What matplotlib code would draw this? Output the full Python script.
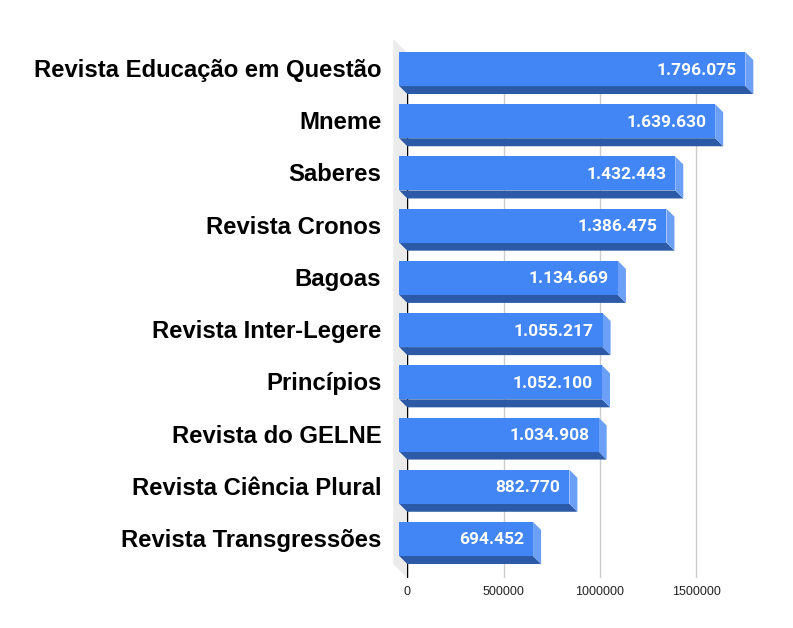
import matplotlib
matplotlib.use('Agg')
import matplotlib.pyplot as plt
from matplotlib.patches import Polygon
from matplotlib.transforms import offset_copy

# data
journals = ['Revista Educação em Questão', 'Mneme', 'Saberes', 'Revista Cronos',
            'Bagoas', 'Revista Inter-Legere', 'Princípios', 'Revista do GELNE',
            'Revista Ciência Plural', 'Revista Transgressões']
views = [1796075, 1639630, 1432443, 1386475, 1134669,
         1055217, 1052100, 1034908, 882770, 694452]
value_labels = ['1.796.075', '1.639.630', '1.432.443', '1.386.475', '1.134.669',
                '1.055.217', '1.052.100', '1.034.908', '882.770', '694.452']
xticks = [0, 500000, 1000000, 1500000]

# look
W, H, DPI = 793, 628, 100
front_col = '#4285f4'
bottom_col = '#2d5aa6'
side_col = '#6c9ff6'
wall_col = '#ebebeb'
depth = 8        # px, bar depth
wall_depth = 14  # px
xmax = 1900000

fig = plt.figure(figsize=(W / DPI, H / DPI), dpi=DPI)
px_per_unit = 96.33 / 500000
ax_left, ax_top, ax_bottom = 407.3, 53, 578
ax = fig.add_axes([ax_left / W, (H - ax_bottom) / H,
                   xmax * px_per_unit / W, (ax_bottom - ax_top) / H])
ax.set_xlim(0, xmax)
ax.set_ylim(9.594, -0.46)
for s in ax.spines.values():
    s.set_visible(False)

# pixel depth -> data units
inv = ax.transData.inverted()
p0 = inv.transform((0, 0))
p1 = inv.transform((depth, depth))
pw = inv.transform((wall_depth, wall_depth))
dx, dy = p1[0] - p0[0], p0[1] - p1[1]     # dy > 0 means "up" (smaller y)
wdx, wdy = pw[0] - p0[0], p0[1] - pw[1]

# side wall
y0, y1 = ax.get_ylim()
ax.add_patch(Polygon([(0, y1), (-wdx, y1 - wdy), (-wdx, y0 - wdy), (0, y0)],
                     closed=True, fc=wall_col, ec='none', zorder=0, clip_on=False))

ax.set_xticks(xticks)
ax.set_xticklabels([str(t) for t in xticks], fontsize=9, color='#222222',
                   family='Liberation Sans')
ax.tick_params(axis='x', length=0, pad=6)
ax.set_yticks([])
ax.grid(axis='x', color='#cccccc', lw=1, zorder=1)
ax.axvline(0, color='black', lw=1, zorder=2)

h = 34 / 52.2
for i, v in enumerate(views):
    top, bot = i - h / 2, i + h / 2
    # bottom face
    ax.add_patch(Polygon([(-dx, bot - dy), (v - dx, bot - dy), (v, bot), (0, bot)],
                         closed=True, fc=bottom_col, ec='none', zorder=3, clip_on=False))
    # side face
    ax.add_patch(Polygon([(v - dx, bot - dy), (v - dx, top - dy), (v, top), (v, bot)],
                         closed=True, fc=side_col, ec='none', zorder=3, clip_on=False))

# front faces
ax.barh([i - dy for i in range(len(views))], [v for v in views], left=-dx,
        height=h, color=front_col, zorder=4, clip_on=False)

lab_tr = offset_copy(ax.transData, fig=fig, x=-26, y=-1.5, units='dots')
val_tr = offset_copy(ax.transData, fig=fig, x=-8 - 9, y=-1, units='dots')
for i, (name, v, lab) in enumerate(zip(journals, views, value_labels)):
    ax.text(0, i - dy, name, transform=lab_tr, ha='right', va='center',
            fontsize=17.2, fontweight='bold', family='Liberation Sans',
            color='black', clip_on=False)
    ax.text(v, i - dy, lab, transform=val_tr, ha='right', va='center',
            fontsize=12.5, fontweight='bold', family='Roboto',
            color='white', zorder=5, clip_on=False)

fig.savefig('out.png', dpi=DPI)
